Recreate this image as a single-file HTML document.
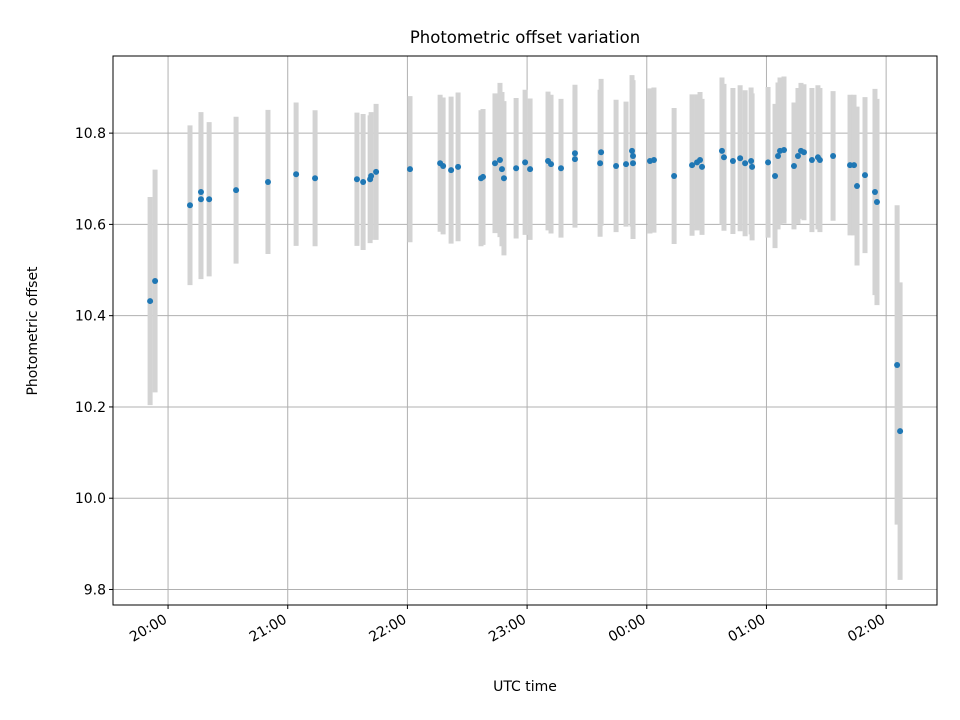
<!DOCTYPE html>
<html><head><meta charset="utf-8"><style>
body{margin:0;background:#fff;}
svg{display:block;font-family:"DejaVu Sans","Liberation Sans",sans-serif;}
</style></head><body>
<svg id="chart" width="960" height="720" viewBox="0 0 960 720" xmlns="http://www.w3.org/2000/svg">
<rect width="960" height="720" fill="#fff"/>
<g id="grid"></g><g id="bars"></g><g id="pts"></g><g id="axes"></g>
<text x="525" y="43" text-anchor="middle" font-size="16.5">Photometric offset variation</text>
<text x="525" y="691" text-anchor="middle" font-size="14">UTC time</text>
<text transform="translate(37,331) rotate(-90)" text-anchor="middle" font-size="14">Photometric offset</text>
</svg>
<script>
// minutes since 20:00 UTC
const times=[-9.0,-6.5,11.0,16.5,16.5,20.6,34.1,50.1,64.2,73.7,94.7,97.8,101.3,101.8,104.3,121.3,136.4,137.9,141.9,145.4,156.9,157.9,163.9,166.4,167.4,168.4,174.5,179.0,181.5,190.5,192.0,197.0,204.0,204.0,216.6,217.1,224.6,229.6,232.6,233.1,233.1,241.6,243.6,253.7,262.7,265.2,266.7,267.7,277.7,278.7,283.2,286.8,289.3,292.3,292.8,300.8,304.3,305.8,306.8,308.8,313.8,315.8,317.3,318.8,322.8,325.8,326.8,333.4,341.9,343.9,345.4,349.4,354.4,355.4,365.5,367.0];
const offsets=[10.432,10.476,10.642,10.671,10.655,10.655,10.675,10.693,10.710,10.701,10.699,10.693,10.699,10.706,10.715,10.721,10.734,10.728,10.719,10.726,10.701,10.704,10.734,10.741,10.721,10.701,10.723,10.736,10.721,10.739,10.732,10.723,10.756,10.743,10.734,10.758,10.728,10.732,10.761,10.750,10.734,10.739,10.741,10.706,10.730,10.736,10.741,10.726,10.761,10.747,10.739,10.745,10.734,10.739,10.726,10.736,10.706,10.750,10.761,10.763,10.728,10.750,10.761,10.758,10.741,10.747,10.741,10.750,10.730,10.730,10.684,10.708,10.671,10.649,10.292,10.147];
const errors=[0.228,0.244,0.175,0.175,0.175,0.169,0.161,0.158,0.157,0.149,0.146,0.149,0.140,0.140,0.149,0.160,0.150,0.150,0.161,0.163,0.149,0.149,0.153,0.169,0.169,0.169,0.154,0.159,0.155,0.152,0.152,0.152,0.150,0.150,0.161,0.161,0.145,0.137,0.166,0.166,0.166,0.159,0.159,0.149,0.155,0.149,0.149,0.149,0.161,0.161,0.160,0.160,0.160,0.161,0.161,0.165,0.158,0.161,0.161,0.161,0.139,0.149,0.149,0.149,0.158,0.158,0.158,0.142,0.154,0.154,0.174,0.171,0.226,0.226,0.350,0.326];
const yTicks=[9.8,10.0,10.2,10.4,10.6,10.8];
const xTicks=[0,60,120,180,240,300,360];
const xTickLabels=["20:00","21:00","22:00","23:00","00:00","01:00","02:00"];

const L=113,R=937,T=56,B=605;
const xMin=-27.6,xMax=385.5,yMin=9.766,yMax=10.969;
const X=t=>L+(t-xMin)/(xMax-xMin)*(R-L);
const Y=v=>B-(v-yMin)/(yMax-yMin)*(B-T);
const NS="http://www.w3.org/2000/svg";
function mk(tag,attrs,parent){const e=document.createElementNS(NS,tag);for(const k in attrs)e.setAttribute(k,attrs[k]);document.getElementById(parent).appendChild(e);return e;}

xTicks.forEach((t,i)=>{
  const g=mk('line',{x1:X(t),x2:X(t),y1:T,y2:B,stroke:'#b0b0b0','stroke-width':1},'grid');
  
  
  const tk=mk('line',{x1:X(t),x2:X(t),y1:B,y2:B+4,stroke:'#000'},'axes');
  
  
  const lb=mk('text',{transform:`translate(${X(t)},${B+17}) rotate(-30)`,'text-anchor':'end','font-size':14},'axes');
  lb.textContent=xTickLabels[i];
  
  
});
yTicks.forEach(v=>{
  const g=mk('line',{x1:L,x2:R,y1:Y(v),y2:Y(v),stroke:'#b0b0b0','stroke-width':1},'grid');
  
  
  const tk=mk('line',{x1:L-4,x2:L,y1:Y(v),y2:Y(v),stroke:'#000'},'axes');
  
  
  const lb=mk('text',{x:L-7,y:Y(v)+5,'text-anchor':'end','font-size':14},'axes');
  lb.textContent=v.toFixed(1);
  
  
});
times.forEach((t,i)=>{
  const b=mk('line',{x1:X(t),x2:X(t),y1:Y(offsets[i]+errors[i]),y2:Y(offsets[i]-errors[i]),stroke:'#d3d3d3','stroke-width':5},'bars');
  
  
});
times.forEach((t,i)=>{
  const c=mk('circle',{cx:X(t),cy:Y(offsets[i]),r:3,fill:'#1f77b4'},'pts');
  
  
});
const f=mk('rect',{x:L,y:T,width:R-L,height:B-T,fill:'none',stroke:'#000','stroke-width':1},'axes');


</script>
</body></html>
